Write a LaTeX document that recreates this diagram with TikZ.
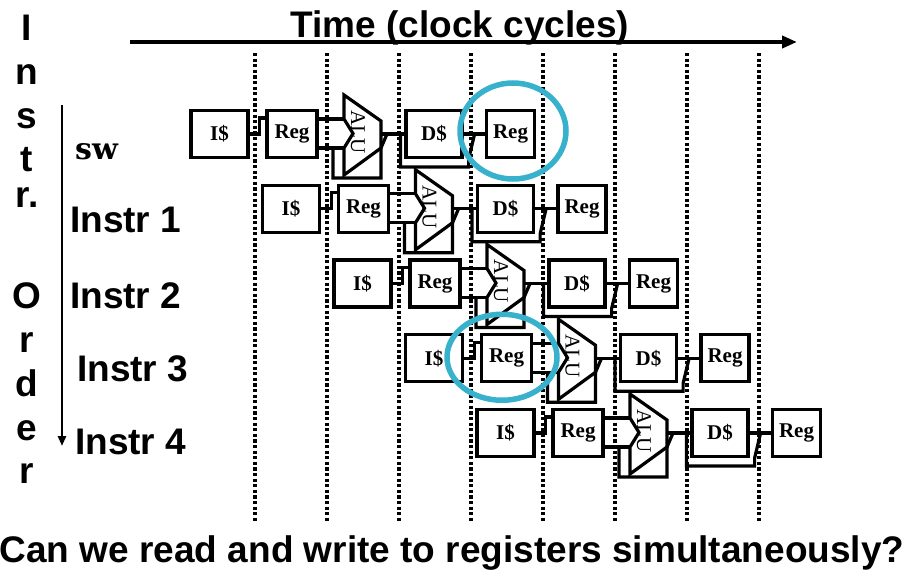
\documentclass[tikz,border=0pt]{standalone}
\usepackage{fontspec}
\setmainfont{Liberation Serif}
\setsansfont{Liberation Sans}
\setmonofont{Liberation Mono}
\newfontfamily\slabfont{DejaVu Serif}
\usetikzlibrary{arrows.meta,calc}

\newlength{\du}
\setlength{\du}{\unitlength}

\definecolor{ringcolor}{rgb}{0.220000, 0.700000, 0.800000}

\tikzset{
  stagebox/.style={draw, fill=white, line width=3.2\du, minimum height=47\du,
    inner sep=0pt, font=\fontsize{21}{21}\selectfont\bfseries},
  alubody/.style={draw, fill=white, line width=3.2\du, line join=miter},
  alulabel/.style={rotate=-90, inner sep=0pt, font=\fontsize{21}{21}\selectfont},
  wire/.style={line width=3.2\du},
  cycleline/.style={line width=3.4\du, dash pattern=on 3.2\du off 2.4\du},
  ring/.style={draw=ringcolor, line width=5.5\du},
  bigtext/.style={inner sep=0pt, font=\fontsize{37}{37}\selectfont\sffamily\bfseries},
  timeaxis/.style={line width=3.8\du, -{Triangle[length=15pt, width=12pt]}},
  orderaxis/.style={line width=2.6\du, -{Triangle[length=10pt, width=8pt]}},
}

\begin{document}
\begin{tikzpicture}[x=\du, y=-\du]
\useasboundingbox (0,0) rectangle (909,573);

% clock cycle boundaries
\draw[cycleline] (255,53) -- (255,522);
\draw[cycleline] (327,53) -- (327,522);
\draw[cycleline] (399,53) -- (399,522);
\draw[cycleline] (471,53) -- (471,522);
\draw[cycleline] (543,53) -- (543,522);
\draw[cycleline] (615,53) -- (615,522);
\draw[cycleline] (687,53) -- (687,522);
\draw[cycleline] (759,53) -- (759,522);

% time axis
\node[bigtext, anchor=base] (title) at (460,37) {Time (clock cycles)};
\coordinate (tstart) at (130,42);
\coordinate (tend) at (797,42);
\draw[timeaxis] (tstart) -- (tend);

% instruction order
\node[bigtext, anchor=base] (ord1) at (27,40) {I};
\node[bigtext, anchor=base] (ord2) at (27,84) {n};
\node[bigtext, anchor=base] (ord3) at (27,128) {s};
\node[bigtext, anchor=base] (ord4) at (27,171) {t};
\node[bigtext, anchor=base] (ord5) at (27,207) {r.};
\node[bigtext, anchor=base] (ord6) at (27,308) {O};
\node[bigtext, anchor=base] (ord7) at (27,352) {r};
\node[bigtext, anchor=base] (ord8) at (27,396) {d};
\node[bigtext, anchor=base] (ord9) at (27,440) {e};
\node[bigtext, anchor=base] (ord10) at (27,483) {r};
\coordinate (otop) at (62,105);
\coordinate (obot) at (62,446);
\draw[orderaxis] (otop) -- (obot);

\node[anchor=base west, inner sep=0pt, font=\fontsize{30}{30}\selectfont\slabfont\bfseries] (isw) at (75,159) {sw};
\node[bigtext, anchor=base west] (in1) at (70,232) {Instr 1};
\node[bigtext, anchor=base west] (in2) at (70,308) {Instr 2};
\node[bigtext, anchor=base west] (in3) at (77,381) {Instr 3};
\node[bigtext, anchor=base west] (in4) at (75,454) {Instr 4};

% sw
\begin{scope}[shift={(191,111)}]
\node[stagebox, minimum width=57\du] (ia) at (28.5,23) {I\$};
\node[stagebox, minimum width=50\du] (ra) at (101,23) {Reg};
\draw[alubody] (153,-16) -- (190,10) -- (190,37) -- (153,64) -- (153,37) -- (162,22.5) -- (153,8) -- cycle;
\node[alulabel] (ua) at (167,21) {ALU};
\coordinate (pa) at (153,8);
\coordinate (qa) at (153,37);
\coordinate (ba) at (142,37);
\coordinate (ca) at (190,37);
\coordinate (oa) at (190,23);
\node[stagebox, minimum width=56\du] (da) at (243,23) {D\$};
\node[stagebox, minimum width=48\du] (wa) at (319.5,23) {Reg};
\end{scope}
\draw[wire] (ia.east) -- ++(10,0) |- ($(ra.north west)+(0,9)$);
\draw[wire] (ra.east |- pa) -- (pa);
\draw[wire] (ra.east |- qa) -- (qa);
\draw[wire] (ba) -- ++(0,30) -| (ca) -- ($(oa)+(6,0)$);
\draw[wire] (oa) -- (da.west);
\draw[wire] ($(da.west)+(-4,0)$) -- ++(0,33) -| ($(da.south east)+(5,0)$) -- ($(da.east)+(11,0)$);
\draw[wire] (da.east) -- (wa.west);

% Instr 1
\begin{scope}[shift={(262.5,185.75)}]
\node[stagebox, minimum width=57\du] (ib) at (28.5,23) {I\$};
\node[stagebox, minimum width=50\du] (rb) at (101,23) {Reg};
\draw[alubody] (153,-16) -- (190,10) -- (190,37) -- (153,64) -- (153,37) -- (162,22.5) -- (153,8) -- cycle;
\node[alulabel] (ub) at (167,21) {ALU};
\coordinate (pb) at (153,8);
\coordinate (qb) at (153,37);
\coordinate (bb) at (142,37);
\coordinate (cb) at (190,37);
\coordinate (ob) at (190,23);
\node[stagebox, minimum width=56\du] (db) at (243,23) {D\$};
\node[stagebox, minimum width=48\du] (wb) at (319.5,23) {Reg};
\end{scope}
\draw[wire] (ib.east) -- ++(10,0) |- ($(rb.north west)+(0,9)$);
\draw[wire] (rb.east |- pb) -- (pb);
\draw[wire] (rb.east |- qb) -- (qb);
\draw[wire] (bb) -- ++(0,30) -| (cb) -- ($(ob)+(6,0)$);
\draw[wire] (ob) -- (db.west);
\draw[wire] ($(db.west)+(-4,0)$) -- ++(0,33) -| ($(db.south east)+(5,0)$) -- ($(db.east)+(11,0)$);
\draw[wire] (db.east) -- (wb.west);

% Instr 2
\begin{scope}[shift={(334,260.5)}]
\node[stagebox, minimum width=57\du] (ic) at (28.5,23) {I\$};
\node[stagebox, minimum width=50\du] (rc) at (101,23) {Reg};
\draw[alubody] (153,-16) -- (190,10) -- (190,37) -- (153,64) -- (153,37) -- (162,22.5) -- (153,8) -- cycle;
\node[alulabel] (uc) at (167,21) {ALU};
\coordinate (pc) at (153,8);
\coordinate (qc) at (153,37);
\coordinate (bc) at (142,37);
\coordinate (cc) at (190,37);
\coordinate (oc) at (190,23);
\node[stagebox, minimum width=56\du] (dc) at (243,23) {D\$};
\node[stagebox, minimum width=48\du] (wc) at (319.5,23) {Reg};
\end{scope}
\draw[wire] (ic.east) -- ++(10,0) |- ($(rc.north west)+(0,9)$);
\draw[wire] (rc.east |- pc) -- (pc);
\draw[wire] (rc.east |- qc) -- (qc);
\draw[wire] (bc) -- ++(0,30) -| (cc) -- ($(oc)+(6,0)$);
\draw[wire] (oc) -- (dc.west);
\draw[wire] ($(dc.west)+(-4,0)$) -- ++(0,33) -| ($(dc.south east)+(5,0)$) -- ($(dc.east)+(11,0)$);
\draw[wire] (dc.east) -- (wc.west);

% Instr 3
\begin{scope}[shift={(405.5,335.25)}]
\node[stagebox, minimum width=57\du] (id) at (28.5,23) {I\$};
\node[stagebox, minimum width=50\du] (rd) at (101,23) {Reg};
\draw[alubody] (153,-16) -- (190,10) -- (190,37) -- (153,64) -- (153,37) -- (162,22.5) -- (153,8) -- cycle;
\node[alulabel] (ud) at (167,21) {ALU};
\coordinate (pd) at (153,8);
\coordinate (qd) at (153,37);
\coordinate (bd) at (142,37);
\coordinate (cd) at (190,37);
\coordinate (od) at (190,23);
\node[stagebox, minimum width=56\du] (dd) at (243,23) {D\$};
\node[stagebox, minimum width=48\du] (wd) at (319.5,23) {Reg};
\end{scope}
\draw[wire] (id.east) -- ++(10,0) |- ($(rd.north west)+(0,9)$);
\draw[wire] (rd.east |- pd) -- (pd);
\draw[wire] (rd.east |- qd) -- (qd);
\draw[wire] (bd) -- ++(0,30) -| (cd) -- ($(od)+(6,0)$);
\draw[wire] (od) -- (dd.west);
\draw[wire] ($(dd.west)+(-4,0)$) -- ++(0,33) -| ($(dd.south east)+(5,0)$) -- ($(dd.east)+(11,0)$);
\draw[wire] (dd.east) -- (wd.west);

% Instr 4
\begin{scope}[shift={(477,410)}]
\node[stagebox, minimum width=57\du] (ie) at (28.5,23) {I\$};
\node[stagebox, minimum width=50\du] (re) at (101,23) {Reg};
\draw[alubody] (153,-16) -- (190,10) -- (190,37) -- (153,64) -- (153,37) -- (162,22.5) -- (153,8) -- cycle;
\node[alulabel] (ue) at (167,21) {ALU};
\coordinate (pe) at (153,8);
\coordinate (qe) at (153,37);
\coordinate (be) at (142,37);
\coordinate (ce) at (190,37);
\coordinate (oe) at (190,23);
\node[stagebox, minimum width=56\du] (de) at (243,23) {D\$};
\node[stagebox, minimum width=48\du] (we) at (319.5,23) {Reg};
\end{scope}
\draw[wire] (ie.east) -- ++(10,0) |- ($(re.north west)+(0,9)$);
\draw[wire] (re.east |- pe) -- (pe);
\draw[wire] (re.east |- qe) -- (qe);
\draw[wire] (be) -- ++(0,30) -| (ce) -- ($(oe)+(6,0)$);
\draw[wire] (oe) -- (de.west);
\draw[wire] ($(de.west)+(-4,0)$) -- ++(0,33) -| ($(de.south east)+(5,0)$) -- ($(de.east)+(11,0)$);
\draw[wire] (de.east) -- (we.west);

% write and read of the register file
\draw[ring] (wa) ++(2.5,-3) ellipse [x radius=53\du, y radius=48\du];
\draw[ring] (rd) ++(-4.5,-1) ellipse [x radius=55\du, y radius=43\du];

\node[bigtext, anchor=base] (question) at (452,562) {Can we read and write to registers simultaneously?};
\end{tikzpicture}
\end{document}
